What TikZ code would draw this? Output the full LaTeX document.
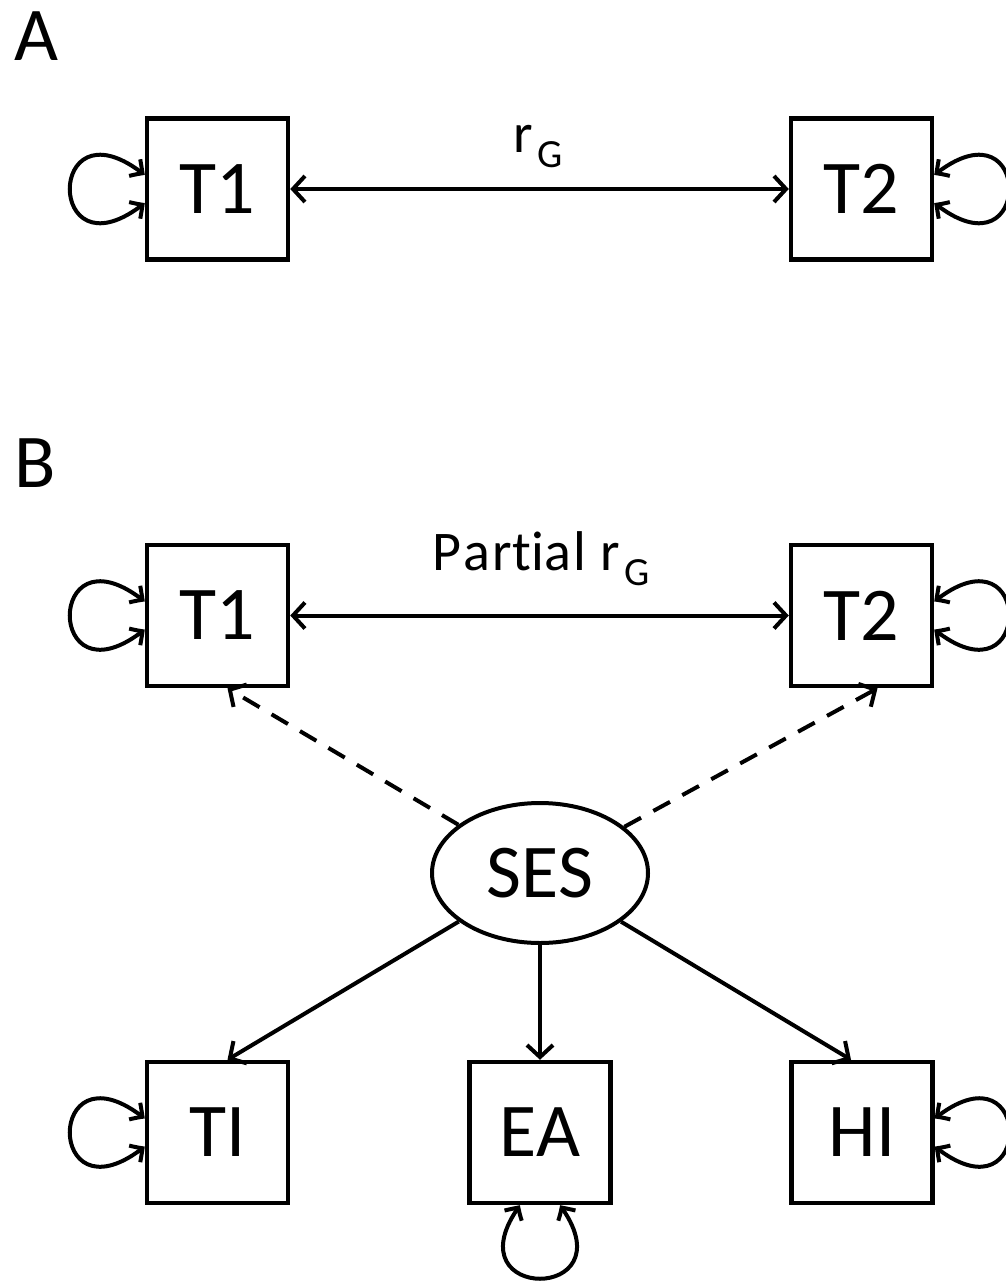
\documentclass[tikz,border=0pt]{standalone}
\usepackage{fontspec}
\setmainfont{Carlito}[Ligatures=NoCommon]
\usetikzlibrary{arrows.meta,shapes.geometric,bending}
\begin{document}
\begin{tikzpicture}[x=1pt,y=-1pt,
  line width=4pt,
  >={Straight Barb[length=12pt,width=26pt]},
  box/.style={draw,line width=4.5pt,minimum width=141pt,minimum height=141pt,inner sep=0pt,
    font=\fontsize{76}{80}\selectfont},
  latent/.style={draw,ellipse,line width=4pt,minimum width=216pt,minimum height=140pt,inner sep=0pt,
    font=\fontsize{76}{80}\selectfont},
  panel/.style={anchor=base west,inner sep=0pt,font=\fontsize{76}{80}\selectfont},
  lab/.style={anchor=base,inner sep=0pt,font=\fontsize{56}{60}\selectfont},
  dsh/.style={dash pattern=on 19pt off 14pt},
  loop/.style={{Straight Barb[length=10pt,width=20pt,bend]}-{Straight Barb[length=10pt,width=20pt,bend]},line width=4pt}
]
\useasboundingbox (0,0) rectangle (1006,1282);

% Panel A
\node[panel] (labA) at (12,60) {A};
\node[box] (T1a) at (217.5,189) {T1};
\node[box] (T2a) at (861.5,189) {T2};
\node[lab] (rA) at (538,152) {r\hspace{4pt}\raisebox{-15pt}{\fontsize{40}{40}\selectfont G}};
\draw[<->] (T1a) -- (T2a);
\draw[loop] ([yshift=14pt]T1a.west) .. controls +(-100,-80) and +(-100,80) .. ([yshift=-14pt]T1a.west);
\draw[loop] ([yshift=14pt]T2a.east) .. controls +(100,-80) and +(100,80) .. ([yshift=-14pt]T2a.east);

% Panel B
\node[panel] (labB) at (12,487) {B};
\node[box] (T1b) at (217.5,615.5) {T1};
\node[box] (T2b) at (861.5,615.5) {T2};
\node[lab] (rB) at (541,570) {{\addfontfeature{LetterSpace=5}Par\kern0ptt\kern0pti\kern0ptal}\hspace{14pt}r\hspace{4pt}\raisebox{-15pt}{\fontsize{40}{40}\selectfont G}};
\draw[<->] (T1b) -- (T2b);
\draw[loop] ([yshift=14pt]T1b.west) .. controls +(-100,-80) and +(-100,80) .. ([yshift=-14pt]T1b.west);
\draw[loop] ([yshift=14pt]T2b.east) .. controls +(100,-80) and +(100,80) .. ([yshift=-14pt]T2b.east);

\node[latent] (SES) at (540,873) {SES};
\draw[->,dsh] (SES) -- ([xshift=10pt]T1b.south);
\draw[->,dsh] (SES) -- ([xshift=16pt]T2b.south);

\node[box] (TI) at (217.5,1132.5) {TI};
\node[box] (EA) at (540,1132.5) {EA};
\node[box] (HI) at (862,1132.5) {HI};
\draw[->] (SES) -- ([xshift=10pt]TI.north);
\draw[->] (SES.south) -- (EA.north);
\draw[->] (SES) -- ([xshift=-11pt]HI.north);

\draw[loop] ([yshift=14pt]TI.west) .. controls +(-100,-80) and +(-100,80) .. ([yshift=-14pt]TI.west);
\draw[loop] ([yshift=14pt]HI.east) .. controls +(100,-80) and +(100,80) .. ([yshift=-14pt]HI.east);
\draw[loop] ([xshift=-20pt]EA.south) .. controls +(-72,98) and +(72,98) .. ([xshift=20pt]EA.south);
\end{tikzpicture}
\end{document}
